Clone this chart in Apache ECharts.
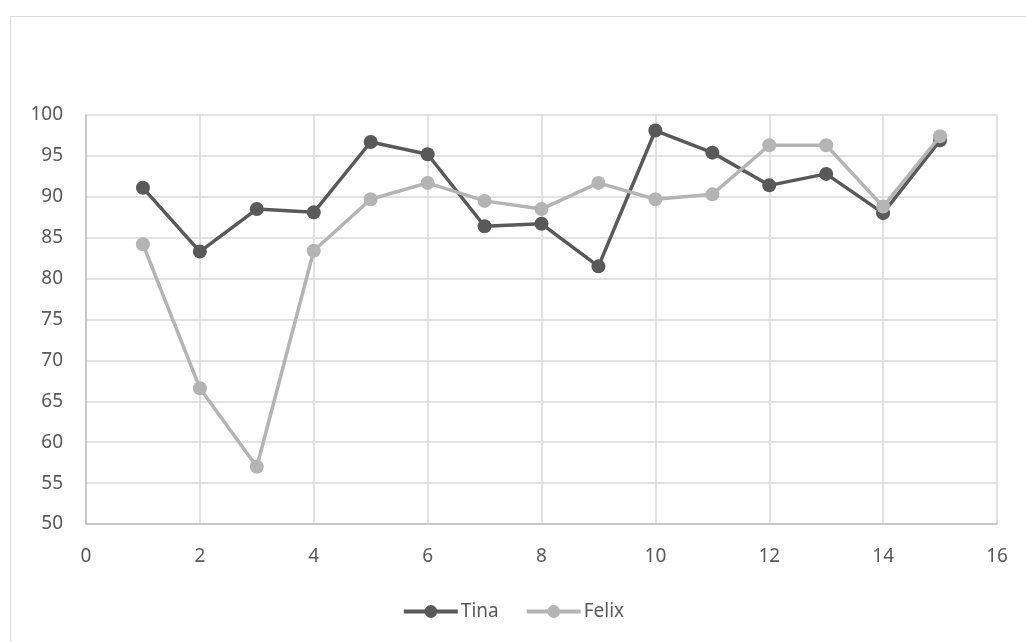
<!DOCTYPE html>
<html>
<head>
<meta charset="utf-8">
<script src="https://cdn.jsdelivr.net/npm/echarts@6/dist/echarts.min.js"></script>
<style>html,body{margin:0;padding:0;background:#fff;}#c{width:1026px;height:642px;}</style>
</head>
<body>
<div id="c"></div>
<script>
const xValues = [1,2,3,4,5,6,7,8,9,10,11,12,13,14,15];
const tina  = [91.1,83.3,88.5,88.1,96.7,95.2,86.4,86.7,81.5,98.1,95.4,91.4,92.8,88.0,96.9];
const felix = [84.2,66.6,57.0,83.4,89.7,91.7,89.5,88.5,91.7,89.7,90.3,96.3,96.3,88.8,97.4];
const seriesNames = ['Tina','Felix'];
const seriesColors = ['#595959','#b4b4b4'];

const pairs = arr => xValues.map((x,i)=>[x,arr[i]]);
const font = '"Noto Sans", "Open Sans", sans-serif';
const chart = echarts.init(document.getElementById('c'));
chart.setOption({
  animation:false,
  backgroundColor:'#fff',
  graphic:[{type:'rect',shape:{x:10.5,y:16.5,width:1100,height:700},style:{fill:'none',stroke:'#d9d9d9',lineWidth:1},silent:true,z:-1}],
  grid:{left:86,top:115,right:29,bottom:118,containLabel:false,show:false},
  legend:{
    top:597,left:'center',itemWidth:54,itemHeight:16,itemGap:26,
    lineStyle:{width:4},
    textStyle:{color:'#595959',fontSize:19,fontFamily:font,padding:[0,0,0,-2]},
    data:seriesNames
  },
  xAxis:{
    type:'value',min:0,max:16,interval:2,
    axisLine:{show:true,lineStyle:{color:'#bfbfbf',width:1.5}},
    axisTick:{show:false},
    axisLabel:{color:'#595959',fontSize:19,fontFamily:font,margin:23},
    splitLine:{show:true,lineStyle:{color:'#d9d9d9',width:1.5}}
  },
  yAxis:{
    type:'value',min:50,max:100,interval:5,
    axisLine:{show:true,lineStyle:{color:'#bfbfbf',width:1.5}},
    axisTick:{show:false},
    axisLabel:{color:'#595959',fontSize:19,fontFamily:font,margin:23},
    splitLine:{show:true,lineStyle:{color:'#d9d9d9',width:1.5}}
  },
  series:[
    {name:seriesNames[0],type:'line',data:pairs(tina),symbol:'circle',symbolSize:14,
     lineStyle:{color:seriesColors[0],width:3.5},itemStyle:{color:seriesColors[0]},z:2},
    {name:seriesNames[1],type:'line',data:pairs(felix),symbol:'circle',symbolSize:14,
     lineStyle:{color:seriesColors[1],width:3.5},itemStyle:{color:seriesColors[1]},z:3}
  ]
});
</script>
</body>
</html>
